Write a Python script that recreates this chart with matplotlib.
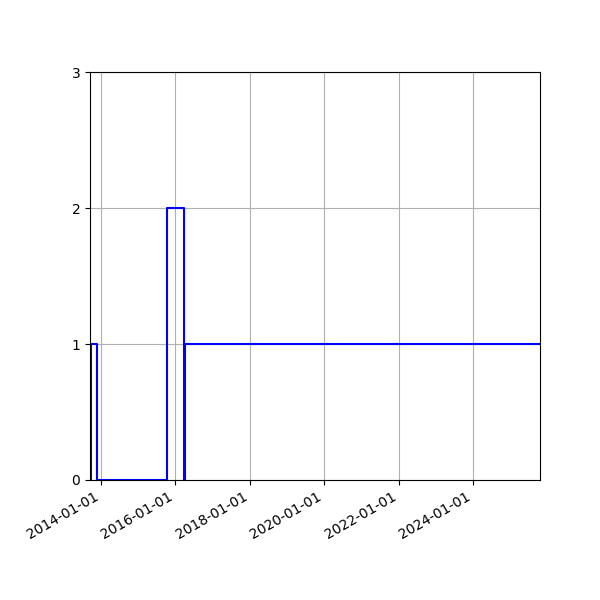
import matplotlib
matplotlib.use("Agg")
import matplotlib.pyplot as plt
import matplotlib.dates as mdates
import numpy as np
import datetime as dt

dates = ["2013-09-15", "2013-09-25", "2013-11-18", "2015-10-08",
         "2016-03-23", "2016-04-09", "2025-10-19"]
values = [0, 1, 0, 2, 0, 1, 1]
yticks = [0, 1, 2, 3]

x = [dt.datetime.strptime(d, "%Y-%m-%d") for d in dates]

fig, ax = plt.subplots(figsize=(6, 6), dpi=100)
ax.plot(x, values, drawstyle="steps-post", color="blue", linewidth=1.5)
ax.set_xlim(x[0], x[-1])
ax.set_ylim(0, 3)
ax.set_yticks(yticks)
ax.xaxis.set_major_locator(mdates.YearLocator(2))
ax.xaxis.set_major_formatter(mdates.DateFormatter("%Y-%m-%d"))
ax.grid(True)
fig.autofmt_xdate()
fig.subplots_adjust(left=0.15, right=0.9, top=0.88, bottom=0.2)
fig.savefig("out.png", dpi=100)
